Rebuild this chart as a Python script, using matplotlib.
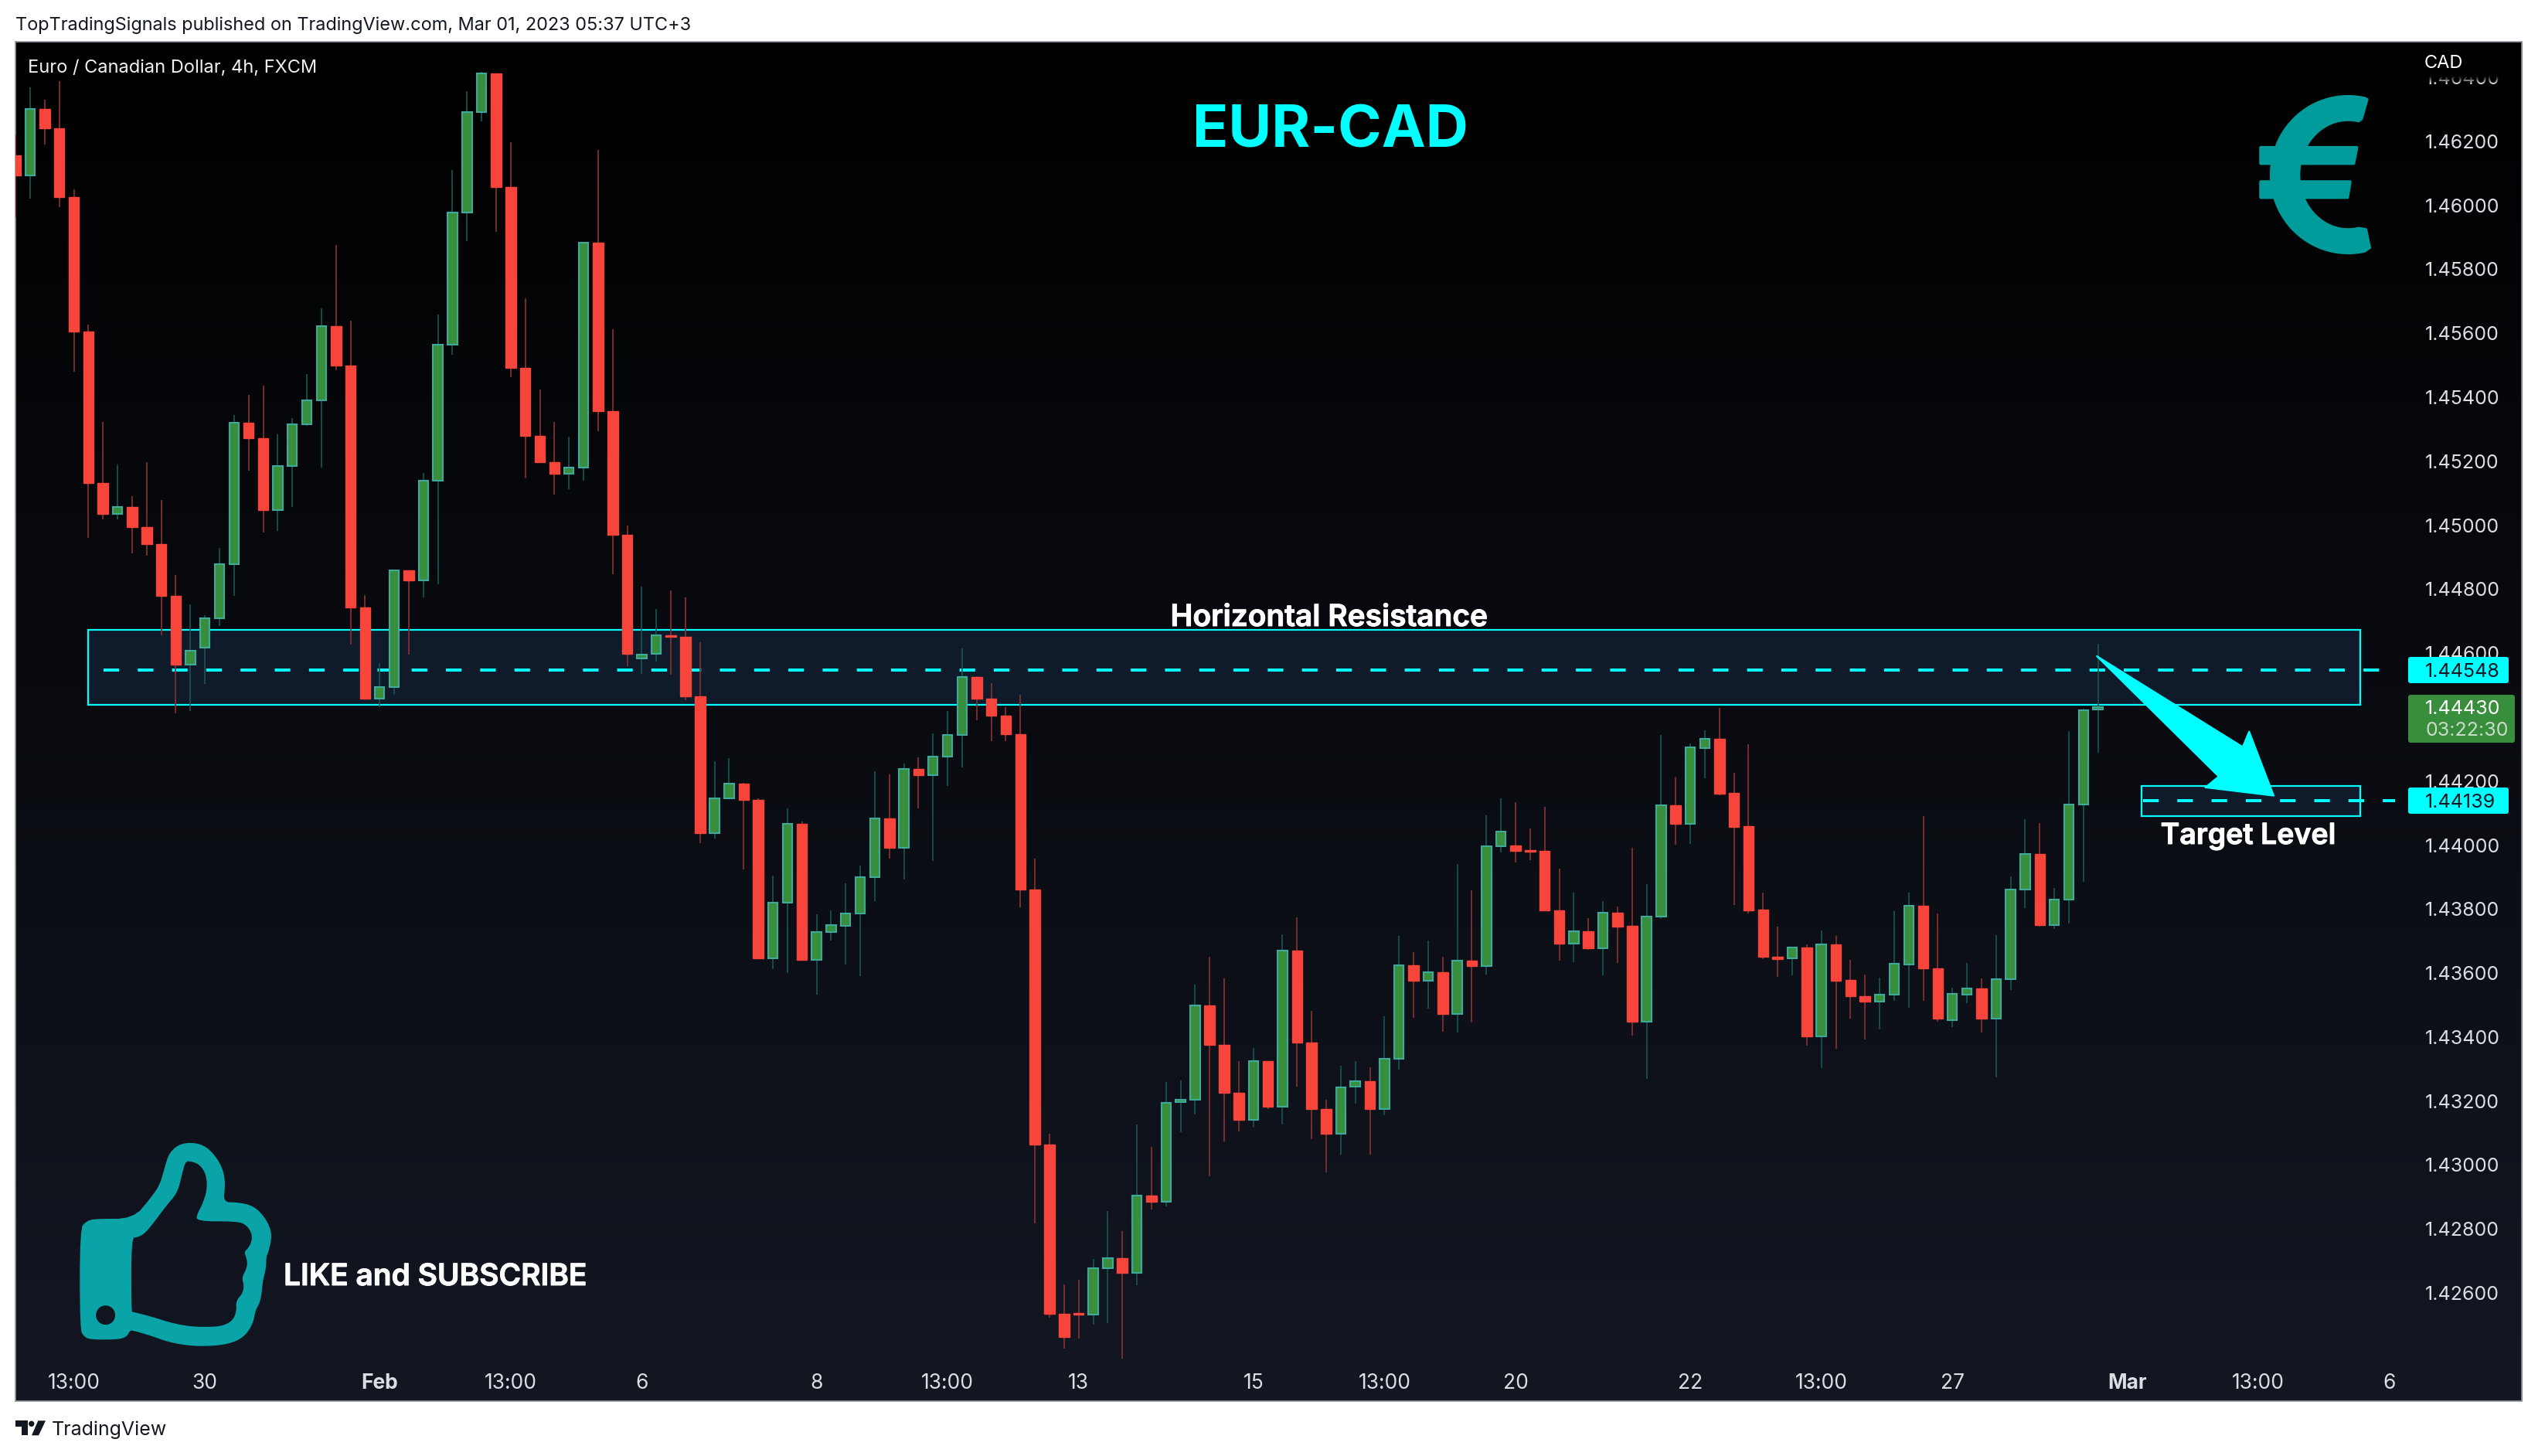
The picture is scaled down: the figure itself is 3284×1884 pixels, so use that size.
import matplotlib
matplotlib.use('Agg')
import matplotlib.pyplot as plt
import matplotlib.patheffects as pe
from matplotlib.colors import LinearSegmentedColormap
from matplotlib.patches import Rectangle, FancyBboxPatch, PathPatch, Polygon
from matplotlib.path import Path
from matplotlib.transforms import Affine2D
import numpy as np

plt.rcParams['font.family'] = ['Inter', 'DejaVu Sans']

# prices in 1e-5 units
opens = [146157, 146094, 146300, 146240, 146025, 145605, 145131, 145036, 145056, 144993,
         144942, 144778, 144564, 144618, 144708, 144877, 145321, 145271, 145046, 145186,
         145316, 145391, 145623, 145498, 144744, 144457, 144493, 144858, 144828, 145140,
         145565, 145976, 146290, 146413, 146056, 145491, 145278, 145196, 145160, 145179,
         145882, 145357, 144971, 144583, 144597, 144655, 144652, 144466, 144038, 144147,
         144191, 144142, 143646, 143821, 144067, 143642, 143729, 143748, 143786, 143899,
         144084, 143992, 144238, 144219, 144277, 144345, 144526, 144458, 144405, 144347,
         143861, 143065, 142536, 142538, 142532, 142678, 142710, 142662, 142904, 142886,
         143196, 143205, 143499, 143376, 143227, 143142, 143324, 143182, 143670, 143384,
         143174, 143097, 143245, 143261, 143174, 143333, 143624, 143575, 143602, 143473,
         143638, 143623, 143996, 143998, 143984, 143982, 143795, 143691, 143730, 143677,
         143788, 143747, 143448, 143776, 144124, 144067, 144304, 144331, 144162, 144058,
         143798, 143651, 143645, 143679, 143403, 143689, 143578, 143528, 143512, 143532,
         143628, 143810, 143614, 143452, 143533, 143551, 143457, 143580, 143860, 143973,
         143749, 143829, 144128, 144423]
highs = [146219, 146369, 146330, 146388, 146050, 145627, 145322, 145190, 145090, 145197,
         145078, 144844, 144752, 144719, 144928, 145344, 145407, 145436, 145285, 145335,
         145472, 145678, 145875, 145640, 144781, 144568, 144862, 144858, 145163, 145659,
         146110, 146356, 146417, 146413, 146197, 145709, 145425, 145322, 145276, 145882,
         146173, 145613, 144999, 144808, 144738, 144796, 144774, 144634, 144262, 144272,
         144194, 144146, 143904, 144114, 144073, 143785, 143795, 143880, 143935, 144230,
         144221, 144254, 144274, 144350, 144418, 144615, 144529, 144506, 144430, 144471,
         143957, 143098, 142627, 142642, 142707, 142857, 142794, 143126, 143056, 143259,
         143265, 143564, 143651, 143583, 143326, 143366, 143326, 143720, 143774, 143482,
         143204, 143310, 143326, 143306, 143465, 143716, 143666, 143702, 143651, 143941,
         143859, 144094, 144146, 144134, 144052, 144119, 143926, 143851, 143772, 143825,
         143808, 143992, 143878, 144344, 144214, 144318, 144359, 144429, 144226, 144315,
         143851, 143745, 143679, 143690, 143733, 143716, 143642, 143596, 143586, 143794,
         143851, 144091, 143787, 143555, 143632, 143583, 143719, 143902, 144081, 144068,
         143866, 144356, 144427, 144630]
lows = [145963, 146021, 146190, 145995, 145480, 144960, 145018, 145018, 144912, 144905,
        144655, 144411, 144419, 144504, 144684, 144778, 145171, 144977, 144982, 145057,
        145311, 145181, 145484, 144627, 144457, 144430, 144469, 144595, 144774, 144816,
        145533, 145888, 146262, 145917, 145462, 145146, 145196, 145096, 145113, 145139,
        145294, 144846, 144559, 144534, 144573, 144533, 144453, 144006, 144020, 144147,
        143924, 143643, 143612, 143600, 143639, 143532, 143701, 143626, 143590, 143826,
        143957, 143892, 144114, 143950, 144184, 144243, 144389, 144325, 144325, 143805,
        142817, 142524, 142426, 142457, 142501, 142505, 142394, 142624, 142861, 142870,
        143103, 143158, 142966, 143073, 143105, 143117, 143174, 143126, 143245, 143081,
        142977, 143032, 143192, 143032, 143155, 143299, 143461, 143488, 143417, 143414,
        143446, 143595, 143977, 143946, 143953, 143795, 143639, 143634, 143673, 143593,
        143632, 143405, 143270, 143769, 144001, 144004, 144209, 144156, 143813, 143787,
        143644, 143588, 143593, 143373, 143303, 143363, 143458, 143393, 143424, 143513,
        143492, 143513, 143448, 143432, 143507, 143414, 143275, 143547, 143804, 143746,
        143738, 143756, 143886, 144288]
closes = [146094, 146300, 146240, 146025, 145605, 145131, 145036, 145056, 144993, 144942,
          144778, 144564, 144607, 144708, 144877, 145321, 145271, 145046, 145186, 145316,
          145391, 145623, 145498, 144744, 144457, 144493, 144858, 144828, 145140, 145565,
          145976, 146290, 146413, 146056, 145491, 145278, 145196, 145160, 145179, 145882,
          145357, 144971, 144597, 144595, 144655, 144652, 144465, 144038, 144147, 144191,
          144142, 143645, 143821, 144067, 143642, 143729, 143749, 143787, 143899, 144084,
          143992, 144238, 144219, 144277, 144345, 144526, 144458, 144405, 144347, 143860,
          143065, 142536, 142462, 142532, 142678, 142710, 142662, 142904, 142886, 143195,
          143205, 143499, 143376, 143227, 143142, 143324, 143182, 143670, 143384, 143174,
          143097, 143243, 143261, 143174, 143332, 143624, 143575, 143602, 143473, 143638,
          143623, 143996, 144042, 143983, 143980, 143795, 143691, 143730, 143677, 143788,
          143746, 143448, 143776, 144124, 144067, 144305, 144331, 144161, 144057, 143797,
          143650, 143644, 143679, 143402, 143689, 143576, 143527, 143512, 143532, 143629,
          143810, 143614, 143458, 143534, 143551, 143457, 143580, 143860, 143973, 143749,
          143829, 144128, 144422, 144430]

# 1.444 sits behind the green last price label, so it has no tick text
price_ticks = [1.426, 1.428, 1.430, 1.432, 1.434, 1.436, 1.438, 1.440, 1.442,
               1.446, 1.448, 1.450, 1.452, 1.454, 1.456, 1.458, 1.460, 1.462, 1.464]
time_ticks = [4, 13, 25, 34, 43, 55, 64, 73, 85, 94, 103, 115, 124, 133, 145, 154, 163]
time_labels = ['13:00', '30', 'Feb', '13:00', '6', '8', '13:00', '13', '15', '13:00',
               '20', '22', '13:00', '27', 'Mar', '13:00', '6']

resistance_low, resistance_high, resistance_mid = 1.44439, 1.44672, 1.44548
target_low, target_high, target_mid = 1.44090, 1.44184, 1.44139
last_price = 1.44430

CYAN = '#00ffff'
TEAL = '#009c9c'
THUMB = '#0aa3a8'
TICK_COL = '#dcdee4'

fig = plt.figure(figsize=(32.84, 18.84), dpi=100, facecolor='white')
W, H = 3284, 1884
# pixel coords, origin top left
pix = Affine2D().scale(1, -1).translate(0, H)
ax = fig.add_axes([20 / W, 1 - 1813 / H, (3263 - 20) / W, (1813 - 54) / H])

x = np.arange(len(opens))
o, h, l, c = [np.array(v) / 1e5 for v in (opens, highs, lows, closes)]
up = c >= o

xlim = (-0.01, 172.1)
ylim = (1.42262, 1.46511)

# background
grad = LinearSegmentedColormap.from_list('bg', ['#000000', '#131722'])
ax.imshow(np.linspace(0, 1, 256).reshape(-1, 1), cmap=grad, aspect='auto',
          extent=(xlim[0], xlim[1], ylim[0], ylim[1]), origin='upper', zorder=0)

# zones
for x0, x1, lo, hi in [(5, 161, resistance_low, resistance_high), (146, 161, target_low, target_high)]:
    ax.add_patch(Rectangle((x0, lo), x1 - x0, hi - lo, facecolor='#0f1a2b', edgecolor=CYAN,
                           linewidth=1.6, zorder=1))
ax.plot([6.05, 163.4], [resistance_mid] * 2, color=CYAN, lw=2.9, ls=(0, (5, 6)), zorder=1.5)
ax.plot([146.1, 163.4], [target_mid] * 2, color=CYAN, lw=2.9, ls=(0, (5, 6)), zorder=1.5)

# candles
ax.vlines(x[up], l[up], h[up], color='#14524e', lw=1.3, zorder=3)
ax.vlines(x[~up], l[~up], h[~up], color='#80302f', lw=1.3, zorder=3)
ax.bar(x[up], (c - o)[up], bottom=o[up], width=0.66, facecolor='#388e3c', edgecolor='#3fa99c',
       linewidth=1.5, zorder=3.2)
ax.bar(x[~up], (c - o)[~up], bottom=o[~up], width=0.72, facecolor='#f7453c', edgecolor='#f7453c',
       linewidth=1.0, zorder=3.2)

ax.set_xlim(xlim)
ax.set_ylim(ylim)

ax.set_yticks(price_ticks)
ax.set_yticklabels(['%.5f' % p for p in price_ticks], color=TICK_COL, fontsize=18)
ax.yaxis.tick_right()
ax.tick_params(axis='y', length=0, pad=-90)
ax.set_xticks(time_ticks)
ax.set_xticklabels(time_labels, color=TICK_COL, fontsize=19)
ax.tick_params(axis='x', length=0, pad=-26)
for lab in ax.get_xticklabels():
    lab.set_zorder(6)
    if lab.get_text() in ('Feb', 'Mar'):
        lab.set_fontweight('bold')
for sp in ax.spines.values():
    sp.set_color('#9598a1')
    sp.set_linewidth(1.2)


def add_text(px, py, s, **kw):
    kw.setdefault('ha', 'left')
    kw.setdefault('va', 'baseline')
    kw.setdefault('color', 'white')
    return fig.text(px, py, s, transform=pix, zorder=20, **kw)


def add_heavy(px, py, s, size, **kw):
    # semibold is a bit light next to the original, thicken it slightly
    t = add_text(px, py, s, fontsize=size, fontweight='semibold', **kw)
    t.set_path_effects([pe.withStroke(linewidth=0.7, foreground='white')])


def add_box(x0, y0, x1, y1, col, zorder=10):
    fig.add_artist(FancyBboxPatch((x0 + 3, y0 + 3), x1 - x0 - 6, y1 - y0 - 6, boxstyle='round,pad=3,rounding_size=3',
                                  facecolor=col, edgecolor='none', transform=pix, zorder=zorder))


# top tick fades out under the currency label
for i, yy in enumerate(range(55, 108)):
    alpha = 1.0 if yy < 99 else 1 - (yy - 98) / 10
    fig.add_artist(Rectangle((3125, yy), 120, 1, facecolor='black', edgecolor='none', alpha=alpha,
                             transform=pix, zorder=9))
add_text(3137, 88, 'CAD', fontsize=17)

# price labels
add_box(3116, 850, 3246, 884, CYAN)
add_text(3138, 876, '%.5f' % resistance_mid, color='#131722', fontsize=18)
add_box(3116, 1019, 3246, 1053, CYAN)
add_text(3138, 1045, '%.5f' % target_mid, color='#131722', fontsize=18)
add_box(3116, 899, 3254, 961, '#388e3c')
add_text(3138, 924, '%.5f' % last_price, fontsize=18)
add_text(3138, 952, '03:22:30', color='#c9dcc9', fontsize=18)

# header and footer
add_text(20, 39, 'TopTradingSignals published on TradingView.com, Mar 01, 2023 05:37 UTC+3',
         color='#131722', fontsize=16.9)
add_text(36, 94.5, 'Euro / Canadian Dollar, 4h, FXCM', color='#f0f1f4', fontsize=17)
add_text(67, 1857.5, 'TradingView', color='#131722', fontsize=18)
logo_t = [(20, 1838.3), (36, 1838.3), (36, 1857.3), (28.3, 1857.3), (28.3, 1845.7), (20, 1845.7)]
logo_v = [(49.3, 1838.3), (59, 1838.3), (50, 1857.3), (41, 1857.3)]
for pts in (logo_t, logo_v):
    fig.add_artist(Polygon(pts, closed=True, facecolor='#131722', edgecolor='none', transform=pix, zorder=20))
fig.add_artist(plt.Circle((40.7, 1842.3), 3.7, facecolor='#131722', edgecolor='none', transform=pix, zorder=20))

# annotations
add_text(1721, 190.7, 'EUR-CAD', color=CYAN, fontsize=55, fontweight='bold', ha='center')
add_heavy(1720, 810, 'Horizontal Resistance', 28, ha='center')
add_heavy(2909, 1092, 'Target Level', 27, ha='center')
add_heavy(367, 1663, 'LIKE and SUBSCRIBE', 28)

# arrow
arrow = [(742, 128), (1015, 435), (1027, 383), (1073, 600), (945, 572), (970, 535)]
arrow = [(2200 + ax_ / 1.446, 800 + ay_ / 2.613) for ax_, ay_ in arrow]
fig.add_artist(Polygon(arrow, closed=True, facecolor=CYAN, edgecolor=CYAN, lw=1.5, joinstyle='round',
                       transform=pix, zorder=8))


def chaikin(pts, n=2):
    pts = np.asarray(pts, float)
    for _ in range(n):
        nxt = np.roll(pts, -1, axis=0)
        pts = np.column_stack([0.75 * pts + 0.25 * nxt, 0.25 * pts + 0.75 * nxt]).reshape(-1, 2)
    return pts


def ring(pts):
    codes = [Path.MOVETO] + [Path.LINETO] * (len(pts) - 1) + [Path.CLOSEPOLY]
    return np.vstack([pts, pts[0]]), codes


# euro sign, traced at 3x around (2800, 0)
t1 = np.radians(np.linspace(-74, -286, 60))
outer = np.column_stack([715 + 300 * np.cos(t1) * 1.0, 678 + 305 * np.sin(t1)])
t2 = t1[::-1]
inner = np.column_stack([715 + 190 * np.cos(t2), 678 + 212 * np.sin(t2)])
euro = np.vstack([[[790, 385]], outer[1:-1], [[800, 962], [785, 890]], inner[1:-1], [[768, 462]]])
euro = euro / 3 + [2800, 0]
fig.add_artist(Polygon(euro, closed=True, facecolor=TEAL, edgecolor=TEAL, lw=2, joinstyle='round',
                       transform=pix, zorder=8))
for bar in ([(376, 573), (748, 573), (736, 634), (376, 634)], [(376, 706), (722, 706), (712, 766), (376, 766)]):
    fig.add_artist(Polygon(np.array(bar) / 3 + [2800, 0], closed=True, facecolor=TEAL, edgecolor=TEAL, lw=3,
                           joinstyle='round', transform=pix, zorder=8))

# thumb
thumb_out = [(180, 570), (195, 540), (215, 531), (300, 531), (340, 450), (360, 400), (370, 340), (380, 280),
             (400, 245), (428, 234), (460, 245), (485, 285), (503, 340), (508, 400), (503, 467), (535, 467),
             (570, 480), (595, 520), (610, 570), (612, 610), (605, 660), (600, 680), (600, 720), (592, 775),
             (590, 820), (585, 860), (576, 885), (570, 940), (550, 990), (520, 1015), (480, 1025), (430, 1025),
             (380, 1010), (340, 985), (300, 965), (293, 965), (285, 990), (265, 1000), (205, 1000), (190, 990),
             (180, 960)]
thumb_in = [(296, 605), (310, 603), (325, 590), (345, 550), (375, 480), (400, 430), (410, 360), (418, 308),
            (430, 308), (450, 320), (465, 360), (467, 420), (455, 480), (445, 510), (442, 541), (535, 541),
            (555, 555), (567, 585), (568, 615), (560, 645), (550, 660), (557, 690), (557, 720), (545, 760),
            (550, 790), (547, 820), (532, 850), (533, 890), (525, 925), (505, 945), (480, 951), (430, 950),
            (385, 935), (340, 910), (300, 893), (296, 892)]
scale = np.array([1 / 1.742, 1 / 3])
shift = np.array([0, 1400])
v1, c1 = ring(chaikin(thumb_out) * scale + shift)
v2, c2 = ring(chaikin(thumb_in)[::-1] * scale + shift)
ang = np.linspace(0, 2 * np.pi, 30)[::-1]
hole = np.column_stack([136.6 + 12.5 * np.cos(ang), 1701.7 + 12.5 * np.sin(ang)])
v3, c3 = ring(hole)
thumb = Path(np.vstack([v1, v2, v3]), c1 + c2 + c3)
fig.add_artist(PathPatch(thumb, facecolor=THUMB, edgecolor='none', transform=pix, zorder=8))

fig.savefig('out.png', dpi=100, facecolor='white')
